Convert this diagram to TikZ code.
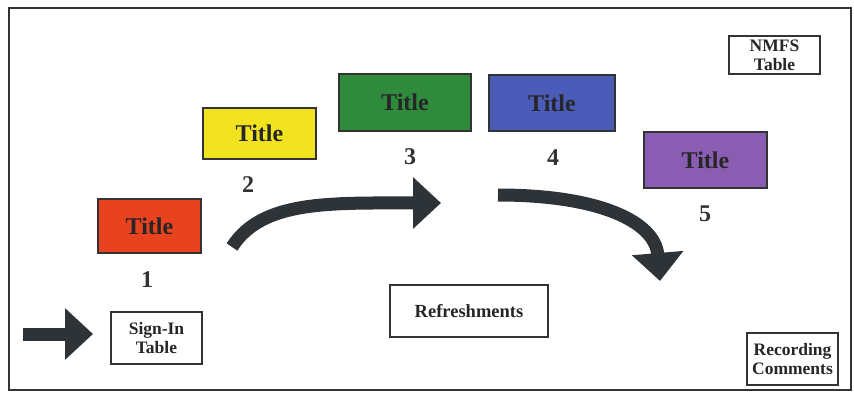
\documentclass[tikz,border=0pt]{standalone}
\usepackage{fontspec}
\setmainfont{Liberation Serif}
\usetikzlibrary{arrows.meta}
\definecolor{arrowc}{HTML}{2E3338}
\definecolor{cred}{HTML}{E8421E}
\definecolor{cyellow}{HTML}{F2E320}
\definecolor{cgreen}{HTML}{2F8A3C}
\definecolor{cblue}{HTML}{4A5BB8}
\definecolor{cpurple}{HTML}{8A5DB2}
\definecolor{edgec}{HTML}{333333}
\begin{document}
\begin{tikzpicture}[x=1pt,y=-1pt,
  titlebox/.style={draw=edgec,line width=1.5pt,inner sep=0pt,font=\fontsize{24}{26}\selectfont\bfseries,text=black!85},
  whitebox/.style={draw=edgec,line width=2pt,fill=white,inner sep=0pt,align=center,font=\fontsize{17.5}{19}\selectfont\bfseries,text=black!85},
  numlabel/.style={font=\fontsize{24}{26}\selectfont\bfseries,text=black!80,inner sep=0pt},
  bigarrow/.style={draw=arrowc,line width=13pt,-{Triangle[width=50pt,length=28pt]}}
]
\useasboundingbox (0,0) rectangle (854,395);
\fill[white] (0,0) rectangle (854,395);
\draw[edgec,line width=2pt] (9,8) rectangle (851,390);

% coloured title boxes
\node[titlebox,fill=cred,minimum width=103pt,minimum height=54pt] (t1) at (149.5,226) {Title};
\node[titlebox,fill=cyellow,minimum width=113pt,minimum height=51pt] (t2) at (259.5,133.5) {Title};
\node[titlebox,fill=cgreen,minimum width=132pt,minimum height=57pt] (t3) at (405,102.5) {Title};
\node[titlebox,fill=cblue,minimum width=126pt,minimum height=56pt] (t4) at (552,103) {Title};
\node[titlebox,fill=cpurple,minimum width=123pt,minimum height=56pt] (t5) at (705.5,160) {Title};

% numbers
\node[numlabel] (n1) at (147,280) {1};
\node[numlabel] (n2) at (248,185) {2};
\node[numlabel] (n3) at (410,157) {3};
\node[numlabel] (n4) at (553,158) {4};
\node[numlabel] (n5) at (705,214) {5};

% white boxes
\node[whitebox,minimum width=91pt,minimum height=38pt] (nmfs) at (774.5,55) {NMFS\\Table};
\node[whitebox,minimum width=91pt,minimum height=52pt] (sign) at (156.5,338) {Sign-In\\Table};
\node[whitebox,minimum width=158pt,minimum height=52pt,font=\fontsize{18.5}{20}\selectfont\bfseries] (refr) at (469,311) {Refreshments};
\node[whitebox,minimum width=91pt,minimum height=52pt] (rec) at (792.5,359) {Recording\\Comments};

% arrows
\coordinate (a0s) at (23,334);
\coordinate (a0e) at (93,334);
\coordinate (a1s) at (232,247);
\coordinate (a1e) at (441,203);
\coordinate (a2s) at (498,195);
\coordinate (a2e) at (660,281);
\draw[bigarrow] (a0s) -- (a0e);
\draw[bigarrow] (a1s) .. controls (262,200) and (330,203) .. (a1e);
\draw[bigarrow] (a2s) .. controls (600,195) and (655,222) .. (a2e);
\end{tikzpicture}
\end{document}
